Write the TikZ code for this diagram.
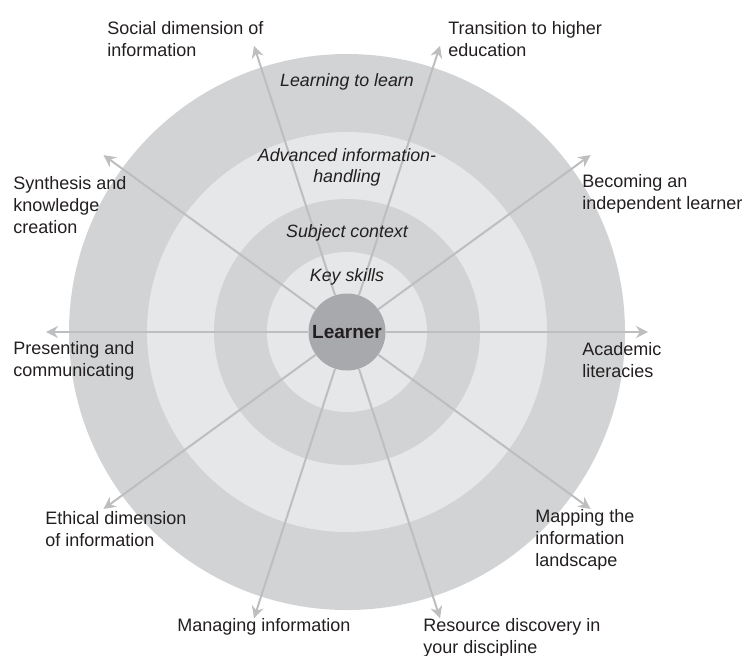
\documentclass[tikz,border=0pt]{standalone}
\usepackage{fontspec}
\setmainfont{Liberation Sans}
\usepackage{xcolor}
\usepackage{tikz}
\usetikzlibrary{arrows.meta}
\definecolor{ringdark}{HTML}{D1D3D4}
\definecolor{ringlight}{HTML}{E6E7E8}
\definecolor{learnergray}{HTML}{A7A9AC}
\definecolor{spokegray}{HTML}{BCBEC0}
\definecolor{ink}{HTML}{231F20}

\begin{document}
\begin{tikzpicture}[x=0.5pt,y=0.5pt]
    \tikzstyle{every node}=[font=\fontsize{9}{11}\selectfont, text=ink, inner sep=0pt]
    \tikzstyle{topic}=[anchor=west, align=left]
    \tikzstyle{ring}=[align=center, font=\fontsize{8.9}{10.5}\selectfont\itshape]
    \tikzstyle{spoke}=[->, >={Stealth[length=6pt,width=6pt]}, color=spokegray, line width=1pt]

    \useasboundingbox (-347,-323) rectangle (400,332);

    \fill[ringdark] (0,0) circle (278);
    \fill[ringlight] (0,0) circle (200);
    \fill[ringdark] (0,0) circle (133);
    \fill[ringlight] (0,0) circle (80);

    \node[circle, fill=learnergray, minimum size=38.5pt, font=\fontsize{9.5}{11}\selectfont\bfseries] (learner) at (0,0) {Learner};

    \foreach \a/\n in {0/acad, 36/indep, 72/trans, 108/social, 144/synth, 180/pres, 216/ethic, 252/manag, 288/resou, 324/mapp}
        \coordinate (\n-tip) at (\a:301);

    \foreach \n in {acad, indep, trans, social, synth, pres, ethic, manag, resou, mapp}
        \draw[spoke] (learner) -- (\n-tip);

    \node[ring] (l2l) at (0,250) {Learning to learn};
    \node[ring] (adv) at (0,165) {Advanced information-\\handling};
    \node[ring] (subj) at (0,99) {Subject context};
    \node[ring] (keys) at (0,55) {Key skills};

    \node[topic] (social) at (-240,293) {Social dimension of\\information};
    \node[topic] (trans) at (101,293) {Transition to higher\\education};
    \node[topic] (indep) at (235,138) {Becoming an\\independent learner};
    \node[topic] (synth) at (-334,127) {Synthesis and\\knowledge\\creation};
    \node[topic] (pres) at (-334,-29) {Presenting and\\communicating};
    \node[topic] (acad) at (235,-28) {Academic\\literacies};
    \node[topic] (ethic) at (-302,-197) {Ethical dimension\\of information};
    \node[topic] (mapp) at (188,-208) {Mapping the\\information\\landscape};
    \node[topic] (manag) at (-170,-295) {Managing information};
    \node[topic] (resou) at (76,-306) {Resource discovery in\\your discipline};
\end{tikzpicture}
\end{document}
